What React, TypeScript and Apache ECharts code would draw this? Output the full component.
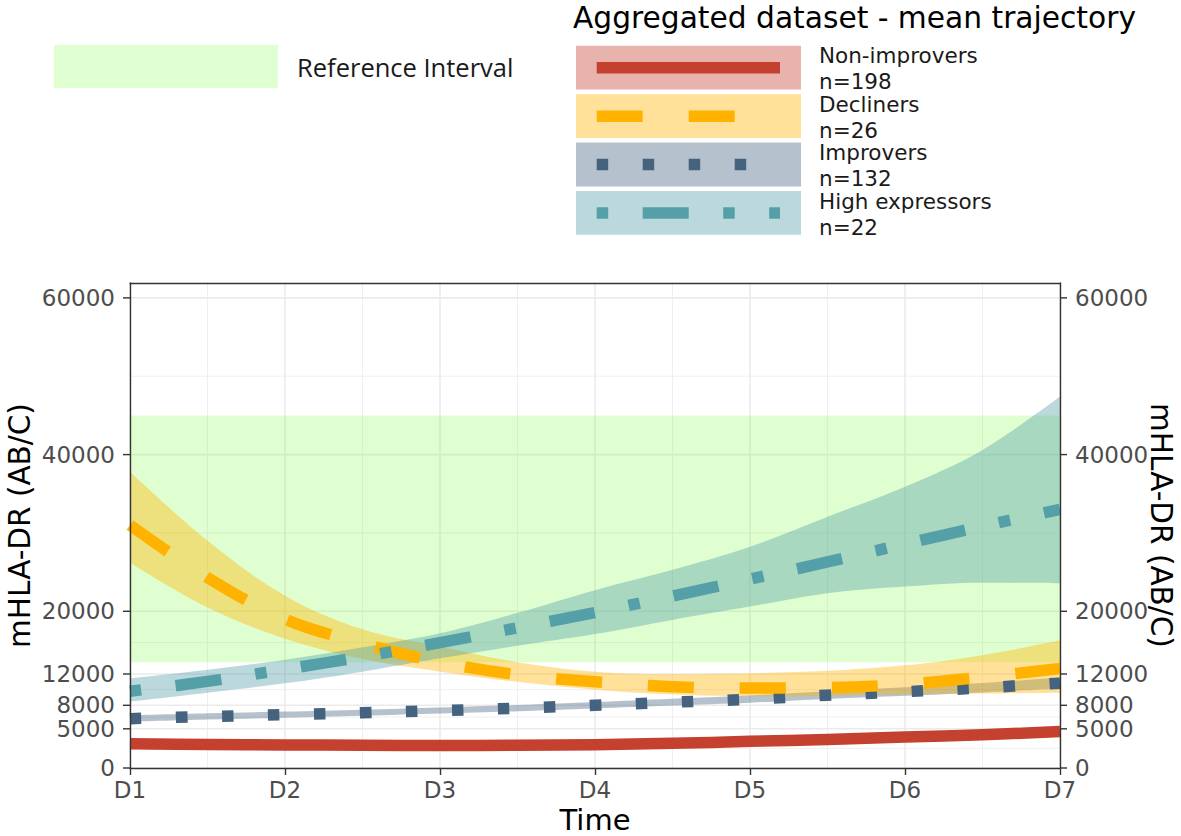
import React, { useEffect, useRef } from "react";
import * as echarts from "echarts";

// ---------- data ----------
const days = [1, 1.5, 2, 2.5, 3, 3.5, 4, 4.5, 5, 5.5, 6, 6.5, 7];
const xTickLabels = ["D1", "D2", "D3", "D4", "D5", "D6", "D7"];
const yTickValues = [0, 5000, 8000, 12000, 20000, 40000, 60000];
const yMinorValues = [2500, 6500, 10000, 16000, 30000, 50000];
const referenceInterval = [13500, 45000];

const nonImproversMean = [3100, 3000, 2950, 2900, 2880, 2900, 2980, 3150, 3400, 3650, 3950, 4250, 4650];
const nonImproversLow = [2900, 2820, 2780, 2740, 2720, 2740, 2810, 2960, 3180, 3400, 3680, 3950, 4300];
const nonImproversHigh = [3320, 3200, 3130, 3070, 3050, 3070, 3160, 3350, 3630, 3910, 4230, 4560, 5000];

const improversMean = [6300, 6570, 6800, 7050, 7330, 7630, 8000, 8400, 8780, 9290, 9740, 10230, 10830];
const improversLow = [5900, 6180, 6420, 6680, 6960, 7250, 7600, 7980, 8330, 8800, 9210, 9650, 10150];
const improversHigh = [6720, 6980, 7200, 7440, 7720, 8030, 8420, 8840, 9260, 9800, 10300, 10840, 11550];

const declinersMean = [31000, 24300, 19000, 15900, 13500, 11900, 11000, 10380, 10200, 10250, 10700, 11600, 12700];
const declinersLow = [26200, 20500, 16500, 13900, 12300, 11000, 10000, 9400, 9150, 9200, 9400, 9500, 9600];
const declinersHigh = [37800, 29000, 22000, 17700, 15500, 13500, 12300, 12000, 12100, 12400, 13100, 14400, 16300];

const highMean = [9800, 11050, 12600, 14200, 16000, 17900, 19850, 21950, 24100, 26300, 28600, 30850, 33000];
const highLow = [8470, 9600, 10810, 12300, 14000, 15600, 17100, 18900, 20600, 22300, 23150, 23650, 23570];
const highHigh = [11450, 12550, 13800, 15400, 17200, 19800, 22700, 25300, 28250, 32080, 35900, 40600, 47400];

const groupNames = ["Non-improvers", "Decliners", "Improvers", "High expressors"];
const groupCounts = ["n=198", "n=26", "n=132", "n=22"];

// ---------- styles ----------
const W = 1181;
const H = 836;
const LW = 11.5;
const FONT = "DejaVu Sans";
const GREEN = "rgba(100,255,20,0.2)";
const DASHES: Record<string, any> = {
  solid: "solid",
  dashed: [4 * LW, 4 * LW],
  dotted: [LW, 3 * LW],
  dotdash: [LW, 3 * LW, 4 * LW, 3 * LW],
};

const groups = [
  { name: groupNames[0], n: groupCounts[0], color: "#C4402F", dash: "solid", mean: nonImproversMean, low: nonImproversLow, high: nonImproversHigh },
  { name: groupNames[1], n: groupCounts[1], color: "#FFB300", dash: "dashed", mean: declinersMean, low: declinersLow, high: declinersHigh },
  { name: groupNames[2], n: groupCounts[2], color: "#45637F", dash: "dotted", mean: improversMean, low: improversLow, high: improversHigh },
  { name: groupNames[3], n: groupCounts[3], color: "#55A0A8", dash: "dotdash", mean: highMean, low: highLow, high: highHigh },
];
const drawOrder = [0, 2, 1, 3];

export default function App() {
  const ref = useRef<HTMLDivElement>(null);

  useEffect(() => {
    document.body.style.margin = "0";
    const chart = echarts.init(ref.current!, undefined, { renderer: "svg" });
    const SMOOTH = 0.35;
    const categories = days.map((d) => (Number.isInteger(d) ? xTickLabels[d - 1] : String(d)));
    const isMajorDay = (i: number) => Number.isInteger(days[i]);
    const lastIdx = days.length - 1;

    const series: any[] = [];

    // vertical grid lines
    series.push({
      type: "custom",
      silent: true,
      z: 1,
      data: days.map((d, i) => [i, 0, isMajorDay(i) ? 1 : 0]),
      renderItem: (params: any, api: any) => {
        const cs = params.coordSys;
        const x = api.coord([api.value(0), 0])[0];
        const major = api.value(2) === 1;
        return {
          type: "line",
          shape: { x1: x, y1: cs.y, x2: x, y2: cs.y + cs.height },
          style: { stroke: "#ebebeb", lineWidth: major ? 1.6 : 0.8 },
        };
      },
    });

    // horizontal grid lines + y ticks on both sides
    series.push({
      type: "custom",
      silent: true,
      z: 1,
      data: [...yTickValues.map((v) => [0, v, 1]), ...yMinorValues.map((v) => [0, v, 0])],
      renderItem: (params: any, api: any) => {
        const cs = params.coordSys;
        const y = api.coord([0, api.value(1)])[1];
        const major = api.value(2) === 1;
        const children: any[] = [
          {
            type: "line",
            shape: { x1: cs.x, y1: y, x2: cs.x + cs.width, y2: y },
            style: { stroke: "#ebebeb", lineWidth: major ? 1.6 : 0.8 },
          },
        ];
        if (major) {
          children.push({
            type: "line",
            shape: { x1: cs.x - 7, y1: y, x2: cs.x, y2: y },
            style: { stroke: "#333333", lineWidth: 1.4 },
          });
          children.push({
            type: "line",
            shape: { x1: cs.x + cs.width, y1: y, x2: cs.x + cs.width + 7, y2: y },
            style: { stroke: "#333333", lineWidth: 1.4 },
          });
        }
        return { type: "group", children };
      },
    });

    // reference interval
    series.push({
      type: "custom",
      silent: true,
      z: 1,
      encode: { x: [0, 2], y: [1, 3] },
      data: [[0, referenceInterval[0], lastIdx, referenceInterval[1]]],
      renderItem: (params: any, api: any) => {
        const p1 = api.coord([api.value(0), api.value(3)]);
        const p2 = api.coord([api.value(2), api.value(1)]);
        return {
          type: "rect",
          shape: { x: p1[0], y: p1[1], width: p2[0] - p1[0], height: p2[1] - p1[1] },
          style: { fill: GREEN },
        };
      },
    });

    drawOrder.forEach((gi) => {
      const g = groups[gi];
      series.push({
        type: "line",
        stack: "ribbon" + gi,
        data: g.low,
        symbol: "none",
        smooth: SMOOTH,
        silent: true,
        lineStyle: { width: 0, opacity: 0 },
      });
      series.push({
        type: "line",
        stack: "ribbon" + gi,
        data: g.high.map((h, i) => h - g.low[i]),
        symbol: "none",
        smooth: SMOOTH,
        silent: true,
        lineStyle: { width: 0, opacity: 0 },
        areaStyle: { color: g.color, opacity: 0.4 },
      });
      series.push({
        type: "line",
        data: g.mean,
        symbol: "none",
        smooth: SMOOTH,
        silent: true,
        lineStyle: { color: g.color, width: LW, type: DASHES[g.dash], cap: "butt", join: "round" },
      });
    });

    const yAxisCommon = {
      type: "value",
      min: 0,
      max: 61900,
      interval: 1000,
      z: 10,
      axisLine: { show: true, lineStyle: { color: "#333333", width: 1.4 } },
      axisTick: { show: false },
      splitLine: { show: false },
      axisLabel: {
        formatter: (v: number) => (yTickValues.includes(v) ? String(v) : ""),
        color: "#4d4d4d",
        fontSize: 23,
        fontFamily: FONT,
        margin: 15,
      },
      name: "mHLA-DR (AB/C)",
      nameLocation: "middle",
      nameMoveOverlap: false,
      nameTextStyle: { color: "#000", fontSize: 29.5, lineHeight: 30, fontFamily: FONT },
    };

    // legend graphics
    const graphics: any[] = [];
    graphics.push({ type: "rect", shape: { x: 54, y: 45, width: 224, height: 43 }, style: { fill: GREEN } });
    graphics.push({
      type: "text",
      x: 297,
      y: 67,
      style: { text: "Reference Interval", fontSize: 25.5, fontFamily: "Open Sans", fill: "#1a1a1a", verticalAlign: "middle", align: "left" },
    });
    graphics.push({
      type: "text",
      x: 573,
      y: 17,
      style: { text: "Aggregated dataset - mean trajectory", fontSize: 29.7, fontFamily: FONT, fill: "#000", verticalAlign: "middle", align: "left" },
    });
    const tops = [45.7, 94.2, 142.6, 191];
    groups.forEach((g, i) => {
      const top = tops[i];
      graphics.push({ type: "rect", shape: { x: 576, y: top, width: 225, height: 43.8 }, style: { fill: g.color, opacity: 0.4 } });
      graphics.push({
        type: "line",
        shape: { x1: 596.7, y1: top + 22, x2: 780, y2: top + 22 },
        style: {
          stroke: g.color,
          lineWidth: LW,
          lineCap: "butt",
          lineDash: g.dash === "solid" ? null : DASHES[g.dash],
        },
      });
      graphics.push({
        type: "text",
        x: 819,
        y: top + 10,
        style: { text: g.name, fontSize: 21.5, lineHeight: 20, fontFamily: FONT, fill: "#1a1a1a", verticalAlign: "middle", align: "left" },
      });
      graphics.push({
        type: "text",
        x: 819,
        y: top + 36,
        style: { text: g.n, fontSize: 21.5, lineHeight: 20, fontFamily: FONT, fill: "#1a1a1a", verticalAlign: "middle", align: "left" },
      });
    });

    const option: any = {
      animation: false,
      backgroundColor: "#ffffff",
      textStyle: { fontFamily: FONT },
      grid: { left: 130, top: 283, width: 930, height: 485, containLabel: false, outerBoundsMode: "none" },
      xAxis: [
        {
          type: "category",
          data: categories,
          boundaryGap: false,
          z: 10,
          axisLine: { show: true, onZero: false, lineStyle: { color: "#333333", width: 1.4 } },
          axisTick: { show: true, length: 7, interval: (i: number) => isMajorDay(i), lineStyle: { color: "#333333", width: 1.4 } },
          splitLine: { show: false },
          axisLabel: {
            interval: (i: number) => isMajorDay(i),
            color: "#4d4d4d",
            fontSize: 23,
            fontFamily: FONT,
            margin: 10,
          },
          name: "Time",
          nameLocation: "middle",
          nameGap: 37,
          nameMoveOverlap: false,
          nameTextStyle: { color: "#000", fontSize: 29, lineHeight: 29, fontFamily: FONT },
        },
        {
          type: "category",
          data: categories,
          boundaryGap: false,
          position: "top",
          z: 10,
          axisLine: { show: true, onZero: false, lineStyle: { color: "#333333", width: 1.4 } },
          axisTick: { show: false },
          axisLabel: { show: false },
          splitLine: { show: false },
        },
      ],
      yAxis: [
        { ...yAxisCommon, position: "left", nameGap: 95 },
        { ...yAxisCommon, position: "right", nameGap: 86, nameRotate: -90 },
      ],
      series,
      graphic: { elements: graphics },
    };

    chart.setOption(option);
    return () => chart.dispose();
  }, []);

  return <div ref={ref} style={{ width: W, height: H }} />;
}
